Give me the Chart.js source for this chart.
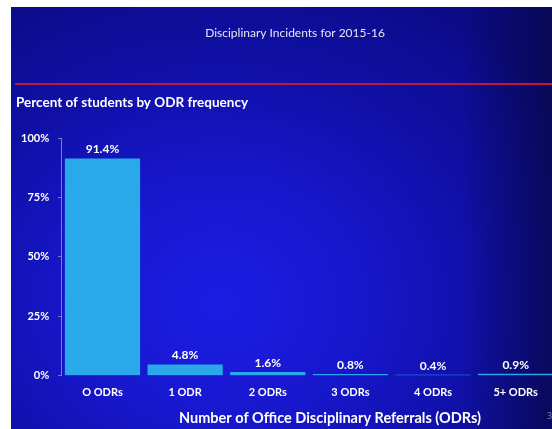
<!DOCTYPE html>
<html>
<head>
<meta charset="utf-8">
<script src="https://cdn.jsdelivr.net/npm/chart.js@4/dist/chart.umd.min.js"></script>
<style>
  html, body { margin: 0; padding: 0; background: #fff; overflow: hidden; width: 552px; height: 429px; }
  #slide {
    position: absolute; left: 11px; top: 7px; width: 548px; height: 422px;
    background:
      linear-gradient(90deg, rgba(0,0,0,0) 0%, rgba(0,0,0,0) 82%, rgba(5,5,40,0.55) 100%),
      radial-gradient(ellipse 75% 85% at 38% 70%, #1d1de4 0%, #1717cc 35%, #1010a8 65%, #0b0b86 100%);
  }
  #page { position: absolute; left: 547px; top: 409px; font: 9px "Open Sans", sans-serif; color: #8888aa; }
</style>
</head>
<body>
<div id="slide"><canvas id="odrChart" width="548" height="422"></canvas></div>
<div id="page">3</div>
<script>
const categories = ['O ODRs', '1 ODR', '2 ODRs', '3 ODRs', '4 ODRs', '5+ ODRs'];
const percentValues = [91.4, 4.8, 1.6, 0.8, 0.4, 0.9];
const yTicks = [0, 25, 50, 75, 100];

const slideTitle = 'Disciplinary Incidents for 2015-16';
const chartHeading = 'Percent of students by ODR frequency';
const xAxisTitle = 'Number of Office Disciplinary Referrals (ODRs)';

const fontFamily = 'Lato, "Open Sans", sans-serif';

// slide title, red rule, heading, axis title and value labels on top of the bars
const slideExtras = {
  id: 'slideExtras',
  afterDraw(chart) {
    const ctx = chart.ctx;
    ctx.save();
    ctx.textBaseline = 'middle';
    ctx.fillStyle = '#e6e6f2';
    ctx.font = '12px ' + fontFamily;
    ctx.textAlign = 'center';
    ctx.fillText(slideTitle, 284, 26);

    ctx.strokeStyle = '#c8143c';
    ctx.lineWidth = 2;
    ctx.beginPath();
    ctx.moveTo(4, 77);
    ctx.lineTo(chart.width, 77);
    ctx.stroke();

    ctx.fillStyle = '#ffffff';
    ctx.font = 'bold 13.5px ' + fontFamily;
    ctx.textAlign = 'left';
    ctx.fillText(chartHeading, 5, 96);

    ctx.font = 'bold 14.5px ' + fontFamily;
    ctx.textAlign = 'center';
    ctx.fillText(xAxisTitle, 319, 411);

    ctx.font = 'bold 12px ' + fontFamily;
    ctx.textBaseline = 'bottom';
    const meta = chart.getDatasetMeta(0);
    meta.data.forEach((bar, i) => {
      ctx.fillText(percentValues[i].toFixed(1) + '%', bar.x, bar.y - 3);
    });
    ctx.restore();
  }
};

const ctx = document.getElementById('odrChart').getContext('2d');
new Chart(ctx, {
  type: 'bar',
  data: {
    labels: categories,
    datasets: [{
      data: percentValues,
      backgroundColor: '#29a8ea',
      borderWidth: 0,
      barPercentage: 0.91,
      categoryPercentage: 1.0
    }]
  },
  options: {
    responsive: false,
    animation: false,
    layout: { padding: { left: 1, right: 2, top: 131, bottom: 20 } },
    plugins: {
      legend: { display: false },
      tooltip: { enabled: false }
    },
    scales: {
      x: {
        grid: { display: false, drawTicks: false },
        border: { display: false },
        ticks: {
          color: '#ffffff',
          font: { family: fontFamily, size: 11, weight: 'bold' },
          padding: 10
        }
      },
      y: {
        min: 0,
        max: 100,
        afterBuildTicks(axis) {
          axis.ticks = yTicks.map(v => ({ value: v }));
        },
        grid: {
          display: true,
          drawOnChartArea: false,
          drawTicks: true,
          tickLength: 3,
          color: '#7f80b8'
        },
        border: { display: true, color: '#7f80b8', width: 1 },
        ticks: {
          color: '#ffffff',
          font: { family: fontFamily, size: 11, weight: 'bold' },
          padding: 9,
          callback: v => v + '%'
        }
      }
    }
  },
  plugins: [slideExtras]
});
</script>
</body>
</html>
